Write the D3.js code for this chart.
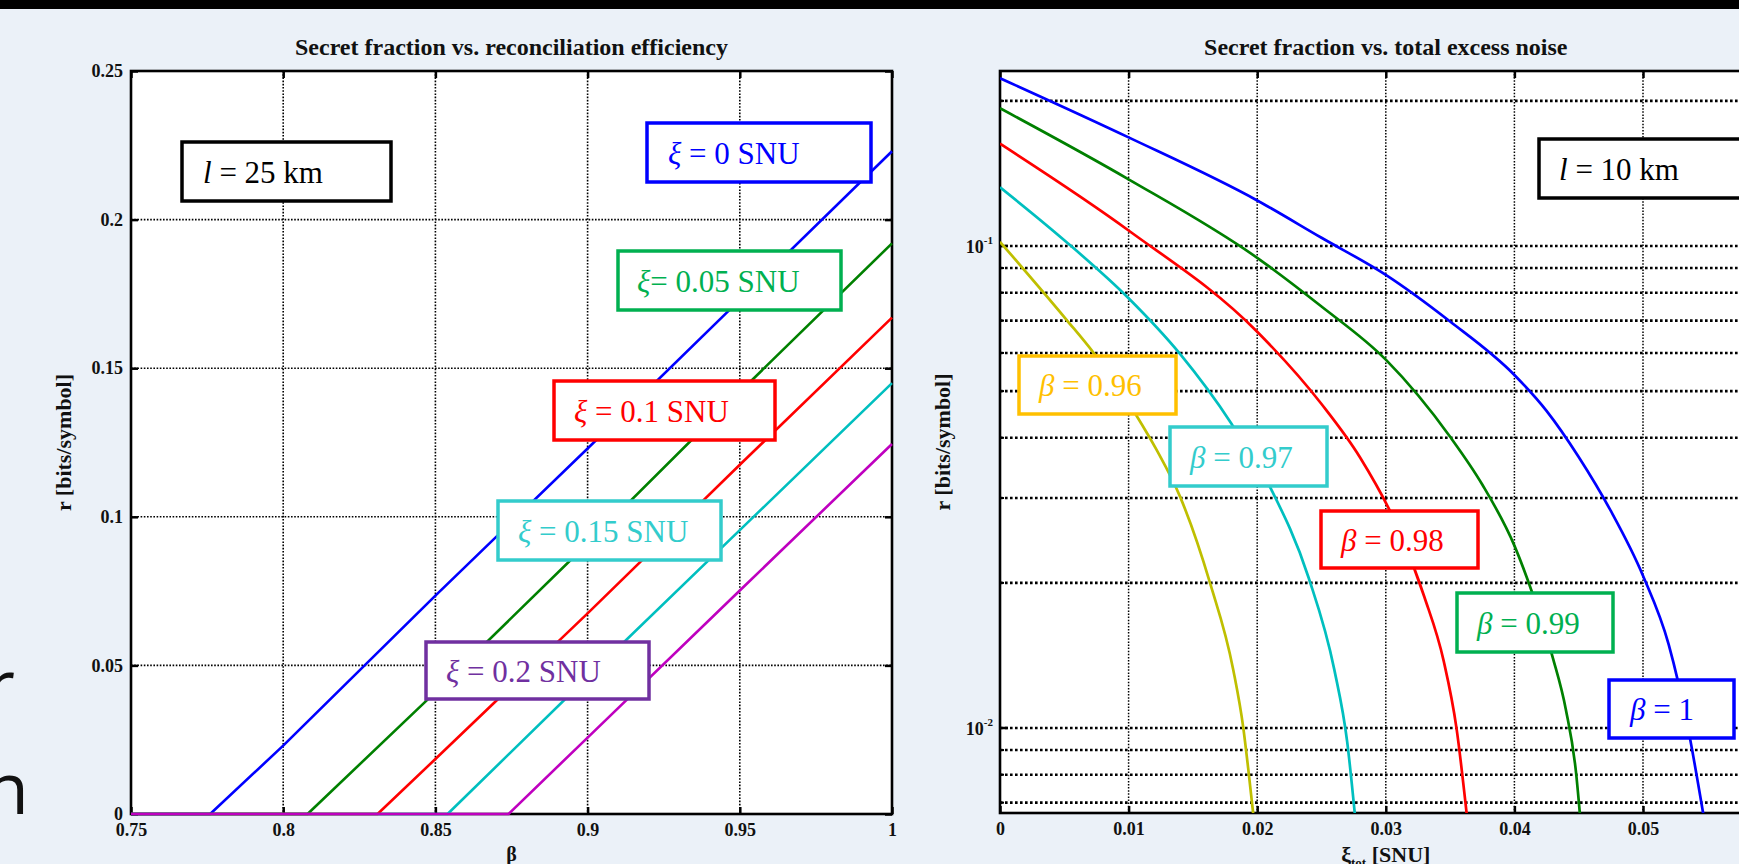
<!DOCTYPE html>
<html><head><meta charset="utf-8">
<script src="https://cdn.jsdelivr.net/npm/d3@7"></script>
<style>html,body{margin:0;padding:0;background:#EBF1F8;overflow:hidden}</style>
</head><body>
<script>
// ---------- DATA: left chart (r vs beta, l = 25 km) ----------
const betaXi0   = [0.75, 0.776, 0.8, 0.85, 0.9, 0.95, 1];
const rXi0      = [0, 0, 0.023, 0.0735, 0.123, 0.173, 0.223];
const betaXi005 = [0.75, 0.808, 0.85, 0.9, 0.95, 1];
const rXi005    = [0, 0, 0.041, 0.091, 0.142, 0.192];
const betaXi01  = [0.75, 0.831, 0.85, 0.9, 0.95, 1];
const rXi01     = [0, 0, 0.0185, 0.0675, 0.1175, 0.167];
const betaXi015 = [0.75, 0.854, 0.9, 0.95, 1];
const rXi015    = [0, 0, 0.046, 0.0955, 0.145];
const betaXi02  = [0.75, 0.874, 0.9, 0.95, 1];
const rXi02     = [0, 0, 0.0257, 0.0752, 0.1245];

// ---------- DATA: right chart (r vs xi_tot, l = 10 km) ----------
const xiB096 = [0, 0.00519, 0.00726, 0.01063, 0.01219, 0.014, 0.01633, 0.01814, 0.01892, 0.01931, 0.0197];
const rB096  = [0.102, 0.0702, 0.0601, 0.0444, 0.0377, 0.0302, 0.0200, 0.0132, 0.0100, 0.0082, 0.0066];
const xiB097 = [0, 0.005, 0.01, 0.014, 0.018, 0.021, 0.024, 0.026, 0.027, 0.0276];
const rB097  = [0.1324, 0.1028, 0.0779, 0.0597, 0.0428, 0.0316, 0.0205, 0.0132, 0.00935, 0.0066];
const xiB098 = [0, 0.01, 0.02, 0.025, 0.028, 0.031, 0.033, 0.0345, 0.0355, 0.0363];
const rB098  = [0.163, 0.1077, 0.0664, 0.0470, 0.0364, 0.0258, 0.0187, 0.01378, 0.00998, 0.0066];
const xiB099 = [0, 0.01, 0.02, 0.025, 0.03, 0.035, 0.0375, 0.04, 0.0415, 0.043, 0.044, 0.0448, 0.0451];
const rB099  = [0.1931, 0.1375, 0.0945, 0.0749, 0.0581, 0.0402, 0.0320, 0.0239, 0.0187, 0.01395, 0.01093, 0.00805, 0.0066];
const xiB1   = [0, 0.01, 0.02, 0.025, 0.03, 0.035, 0.04, 0.0425, 0.045, 0.0475, 0.05, 0.052, 0.0535, 0.0547];
const rB1    = [0.2229, 0.168, 0.1243, 0.104, 0.0871, 0.0697, 0.054, 0.0455, 0.0365, 0.0282, 0.0207, 0.0149, 0.0100, 0.0066];

// ---------- ticks / labels ----------
const leftXTicks  = [0.75, 0.8, 0.85, 0.9, 0.95, 1];
const leftXLabels = ["0.75", "0.8", "0.85", "0.9", "0.95", "1"];
const leftYTicks  = [0, 0.05, 0.1, 0.15, 0.2, 0.25];
const leftYLabels = ["0", "0.05", "0.1", "0.15", "0.2", "0.25"];
const rightXTicks  = [0, 0.01, 0.02, 0.03, 0.04, 0.05, 0.06];
const rightXLabels = ["0", "0.01", "0.02", "0.03", "0.04", "0.05", ""];
const rightYMajor  = [0.01, 0.1];
const rightYExp    = ["-2", "-1"];
const rightYMinor  = [0.007, 0.008, 0.009, 0.02, 0.03, 0.04, 0.05, 0.06, 0.07, 0.08, 0.09, 0.2];
const rightYDomain = [0.006663, 0.2307];

const leftTitle  = "Secret fraction vs. reconciliation efficiency";
const rightTitle = "Secret fraction vs. total excess noise";
const leftNotes  = ["l = 25 km", "ξ = 0 SNU", "ξ= 0.05 SNU", "ξ = 0.1 SNU", "ξ = 0.15 SNU", "ξ = 0.2 SNU"];
const rightNotes = ["l = 10 km", "β = 0.96", "β = 0.97", "β = 0.98", "β = 0.99", "β = 1"];
const slideFragments = ["r", "n"];

// ---------- styles / layout ----------
const leftColors  = ["#0000FF", "#008000", "#FF0000", "#00BFBF", "#BF00BF"];
const rightColors = ["#BFBF00", "#00BFBF", "#FF0000", "#008000", "#0000FF"];
const leftNoteColors  = ["#000000", "#0000FF", "#00B050", "#FF0000", "#33CCCC", "#7030A0"];
const rightNoteColors = ["#000000", "#FFC000", "#33CCCC", "#FF0000", "#00B050", "#0000FF"];
const leftNoteBoxes = [
  {x:182, y:142, w:209, h:59, tx:203},
  {x:647, y:123, w:224, h:59, tx:668},
  {x:618, y:251, w:223, h:59, tx:637},
  {x:554, y:381, w:221, h:59, tx:574},
  {x:498, y:501, w:223, h:59, tx:518},
  {x:426, y:642, w:223, h:57, tx:446}
];
const rightNoteBoxes = [
  {x:1539, y:139, w:209, h:59, tx:1559},
  {x:1019, y:356, w:157, h:58, tx:1039},
  {x:1170, y:427, w:157, h:59, tx:1190},
  {x:1321, y:511, w:157, h:57, tx:1341},
  {x:1457, y:593, w:156, h:59, tx:1477},
  {x:1609, y:680, w:125, h:58, tx:1630}
];
const slideFragPos = [{x:15, y:711}, {x:29, y:814}];

const W = 1739, H = 864;
const SERIF = "'Liberation Serif', 'Times New Roman', serif";

const svg = d3.select("body").append("svg").attr("width", W).attr("height", H)
  .style("display", "block");
svg.append("rect").attr("width", W).attr("height", H).attr("fill", "#EBF1F8");
svg.append("rect").attr("width", W).attr("height", 9).attr("fill", "#000");

// slide text fragments on the left edge (cut by the picture edge)
slideFragments.forEach((t, i) => {
  svg.append("text").attr("x", slideFragPos[i].x).attr("y", slideFragPos[i].y).attr("text-anchor", "end")
    .attr("font-family", "'Open Sans', sans-serif").attr("font-size", 72).attr("fill", "#111").text(t);
});

// ---------- scales ----------
const xL = d3.scaleLinear().domain([0.75, 1]).range([131, 892]);
const yL = d3.scaleLinear().domain([0, 0.25]).range([814, 71]);
const xR = d3.scaleLinear().domain([0, 0.06]).range([1000, 1771.6]);
const yR = d3.scaleLog().domain(rightYDomain).range([813, 71]);

function panel(x, y, id) {
  const [x0, x1] = x.range(); const [y1, y0] = y.range();
  const g = svg.append("g");
  g.append("rect").attr("x", x0).attr("y", y0).attr("width", x1 - x0).attr("height", y1 - y0).attr("fill", "#fff");
  svg.append("clipPath").attr("id", id).append("rect")
    .attr("x", x0).attr("y", y0).attr("width", x1 - x0).attr("height", y1 - y0);
  return {g, x0, x1, y0, y1};
}
function styleAxis(sel) {
  sel.select(".domain").remove();
  sel.selectAll(".tick line").attr("stroke", "#000").attr("stroke-width", 2.5);
  sel.selectAll(".tick text").attr("font-family", SERIF).attr("font-weight", "bold").attr("font-size", 18).attr("fill", "#111");
}

// ================= LEFT PANEL =================
const L = panel(xL, yL, "clipL");
L.g.selectAll(".vg").data(leftXTicks.slice(1, -1)).join("line")
  .attr("x1", d => xL(d)).attr("x2", d => xL(d)).attr("y1", L.y0).attr("y2", L.y1)
  .attr("stroke", "#000").attr("stroke-width", 1.6).attr("stroke-dasharray", "1.6,1.6");
L.g.selectAll(".hg").data(leftYTicks.slice(1, -1)).join("line")
  .attr("y1", d => yL(d)).attr("y2", d => yL(d)).attr("x1", L.x0).attr("x2", L.x1)
  .attr("stroke", "#000").attr("stroke-width", 1.6).attr("stroke-dasharray", "1.6,1.6");

svg.append("g").attr("transform", `translate(0,${L.y1})`)
  .call(d3.axisBottom(xL).tickValues(leftXTicks).tickFormat((d, i) => leftXLabels[i]).tickSize(-7).tickSizeOuter(0).tickPadding(9)).call(styleAxis);
svg.append("g").attr("transform", `translate(0,${L.y0})`)
  .call(d3.axisTop(xL).tickValues(leftXTicks).tickFormat("").tickSize(-7).tickSizeOuter(0)).call(styleAxis);
svg.append("g").attr("transform", `translate(${L.x0},0)`)
  .call(d3.axisLeft(yL).tickValues(leftYTicks).tickFormat((d, i) => leftYLabels[i]).tickSize(-7).tickSizeOuter(0).tickPadding(8)).call(styleAxis);
svg.append("g").attr("transform", `translate(${L.x1},0)`)
  .call(d3.axisRight(yL).tickValues(leftYTicks).tickFormat("").tickSize(-7).tickSizeOuter(0)).call(styleAxis);
svg.append("rect").attr("x", L.x0).attr("y", L.y0).attr("width", L.x1 - L.x0).attr("height", L.y1 - L.y0)
  .attr("fill", "none").attr("stroke", "#000").attr("stroke-width", 2.6);

const leftSeries = [[betaXi0, rXi0], [betaXi005, rXi005], [betaXi01, rXi01], [betaXi015, rXi015], [betaXi02, rXi02]];
const lineL = d3.line().x(d => xL(d[0])).y(d => yL(d[1]));
leftSeries.forEach((s, i) => {
  const pts = s[0].map((b, k) => [b, s[1][k]]);
  svg.append("path").attr("d", lineL(pts)).attr("fill", "none")
    .attr("stroke", leftColors[i]).attr("stroke-width", 2.6).attr("stroke-linejoin", "round");
});

svg.append("text").attr("x", (L.x0 + L.x1) / 2).attr("y", 55).attr("text-anchor", "middle")
  .attr("font-family", SERIF).attr("font-weight", "bold").attr("font-size", 24).attr("fill", "#111").text(leftTitle);
svg.append("text").attr("x", (L.x0 + L.x1) / 2).attr("y", 861).attr("text-anchor", "middle")
  .attr("font-family", SERIF).attr("font-weight", "bold").attr("font-size", 20).attr("fill", "#111").text("β");
svg.append("text").attr("transform", `translate(71,${(L.y0 + L.y1) / 2}) rotate(-90)`).attr("text-anchor", "middle")
  .attr("font-family", SERIF).attr("font-weight", "bold").attr("font-size", 22).attr("fill", "#111").text("r [bits/symbol]");

// ================= RIGHT PANEL =================
const R = panel(xR, yR, "clipR");
R.g.selectAll(".vg").data(rightXTicks.slice(1, -1)).join("line")
  .attr("x1", d => xR(d)).attr("x2", d => xR(d)).attr("y1", R.y0).attr("y2", R.y1)
  .attr("stroke", "#000").attr("stroke-width", 1.5).attr("stroke-dasharray", "1.5,1.6");
R.g.selectAll(".hg").data(rightYMinor.concat(rightYMajor)).join("line")
  .attr("y1", d => yR(d)).attr("y2", d => yR(d)).attr("x1", R.x0).attr("x2", R.x1)
  .attr("stroke", "#000").attr("stroke-width", 2.6).attr("stroke-dasharray", "2.6,2.4");

svg.append("g").attr("transform", `translate(0,${R.y1})`)
  .call(d3.axisBottom(xR).tickValues(rightXTicks).tickFormat((d, i) => rightXLabels[i]).tickSize(-7).tickSizeOuter(0).tickPadding(9)).call(styleAxis);
svg.append("g").attr("transform", `translate(0,${R.y0})`)
  .call(d3.axisTop(xR).tickValues(rightXTicks).tickFormat("").tickSize(-7).tickSizeOuter(0)).call(styleAxis);
const gy = svg.append("g");
gy.selectAll(".maj").data(rightYMajor).join("line")
  .attr("x1", R.x0).attr("x2", R.x0 + 8).attr("y1", d => yR(d)).attr("y2", d => yR(d))
  .attr("stroke", "#000").attr("stroke-width", 2.5);
gy.selectAll(".min").data(rightYMinor).join("line")
  .attr("x1", R.x0).attr("x2", R.x0 + 4).attr("y1", d => yR(d)).attr("y2", d => yR(d))
  .attr("stroke", "#000").attr("stroke-width", 2);
const lab = gy.selectAll(".lab").data(rightYMajor).join("text")
  .attr("x", R.x0 - 7).attr("y", d => yR(d) + 7).attr("text-anchor", "end")
  .attr("font-family", SERIF).attr("font-weight", "bold").attr("font-size", 18).attr("fill", "#111");
lab.append("tspan").text("10");
lab.append("tspan").attr("dy", -9).attr("font-size", 11).text((d, i) => rightYExp[i]);
svg.append("rect").attr("x", R.x0).attr("y", R.y0).attr("width", R.x1 - R.x0).attr("height", R.y1 - R.y0)
  .attr("fill", "none").attr("stroke", "#000").attr("stroke-width", 2.6);

const rightSeries = [[xiB096, rB096], [xiB097, rB097], [xiB098, rB098], [xiB099, rB099], [xiB1, rB1]];
const lineR = d3.line().x(d => xR(d[0])).y(d => yR(d[1])).curve(d3.curveMonotoneX);
const gLinesR = svg.append("g").attr("clip-path", "url(#clipR)");
rightSeries.forEach((s, i) => {
  const pts = s[0].map((x, k) => [x, s[1][k]]);
  gLinesR.append("path").attr("d", lineR(pts)).attr("fill", "none")
    .attr("stroke", rightColors[i]).attr("stroke-width", 2.7).attr("stroke-linejoin", "round");
});

svg.append("text").attr("x", (R.x0 + R.x1) / 2).attr("y", 55).attr("text-anchor", "middle")
  .attr("font-family", SERIF).attr("font-weight", "bold").attr("font-size", 24).attr("fill", "#111").text(rightTitle);
const xlab = svg.append("text").attr("x", (R.x0 + R.x1) / 2).attr("y", 862).attr("text-anchor", "middle")
  .attr("font-family", SERIF).attr("font-weight", "bold").attr("font-size", 22).attr("fill", "#111");
xlab.append("tspan").text("ξ");
xlab.append("tspan").attr("font-size", 13).attr("dy", 5).text("tot");
xlab.append("tspan").attr("dy", -5).text(" [SNU]");
svg.append("text").attr("transform", `translate(950,${(R.y0 + R.y1) / 2}) rotate(-90)`).attr("text-anchor", "middle")
  .attr("font-family", SERIF).attr("font-weight", "bold").attr("font-size", 22).attr("fill", "#111").text("r [bits/symbol]");

// ================= annotation boxes =================
function notes(texts, boxes, colors) {
  texts.forEach((t, i) => {
    const b = boxes[i];
    svg.append("rect").attr("x", b.x).attr("y", b.y).attr("width", b.w).attr("height", b.h)
      .attr("fill", "#fff").attr("stroke", colors[i]).attr("stroke-width", 3.5);
    const tx = svg.append("text").attr("x", b.tx).attr("y", b.y + b.h / 2 + 11)
      .attr("font-family", SERIF).attr("font-size", 31).attr("fill", colors[i]);
    tx.append("tspan").attr("font-style", "italic").text(t[0]);
    tx.append("tspan").text(t.slice(1));
  });
}
notes(leftNotes, leftNoteBoxes, leftNoteColors);
notes(rightNotes, rightNoteBoxes, rightNoteColors);
</script>
</body></html>
